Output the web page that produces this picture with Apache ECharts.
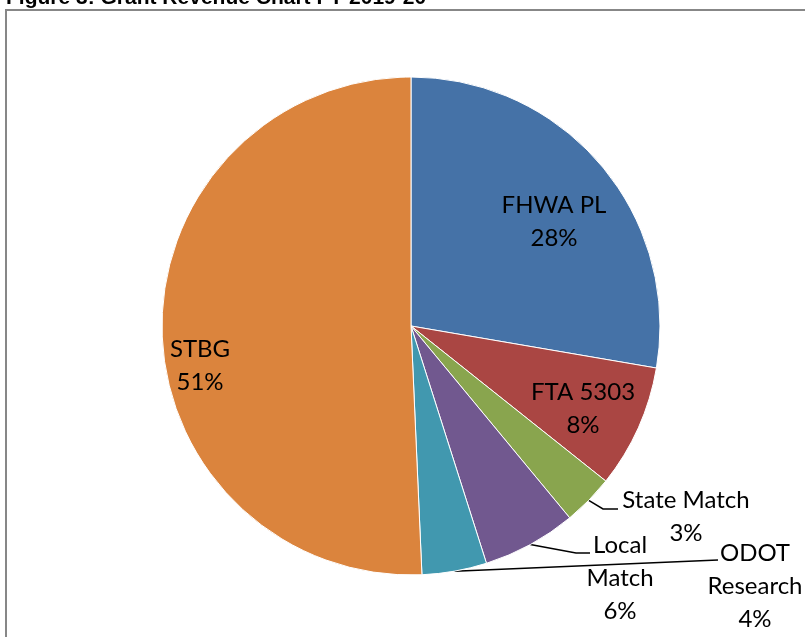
<!DOCTYPE html>
<html>
<head>
<meta charset="utf-8">
<script src="https://cdn.jsdelivr.net/npm/echarts@6/dist/echarts.min.js"></script>
<style>
  html, body { margin: 0; padding: 0; background: #fff; }
  #chart { width: 805px; height: 637px; }
</style>
</head>
<body>
<div id="chart"></div>
<script>
// Grant revenue shares FY 2019-20 (percent)
var categories = ['FHWA PL', 'FTA 5303', 'State Match', 'Local Match', 'ODOT Research', 'STBG'];
var shares = [27.7, 8.0, 3.3, 6.1, 4.2, 50.7];
var labelText = ['FHWA PL', 'FTA 5303', 'State Match', 'Local\nMatch', 'ODOT\nResearch', 'STBG'];
var colors = ['#4572A7', '#AA4643', '#89A54E', '#71588F', '#4198AF', '#DB843D'];

// where each label sits (Excel placed them by hand)
var labelSpots = [
  { x: 554, y: 222 },
  { x: 583, y: 409 },
  { x: 686, y: 517, line: [[603, 509], [618, 509]] },
  { x: 620, y: 578, line: [[576, 553], [590, 553]] },
  { x: 755, y: 586, line: [[718, 560]] },
  { x: 200, y: 366 }
];

function GenerateChart() {
  var chart = echarts.init(document.getElementById('chart'), null, { renderer: 'canvas' });

  var data = categories.map(function (name, i) {
    var outside = !!labelSpots[i].line;
    return {
      name: name,
      value: shares[i],
      itemStyle: { color: colors[i] },
      label: { position: outside ? 'outside' : 'inside' },
      labelLine: { show: outside }
    };
  });

  chart.setOption({
    animation: false,
    graphic: [
      {
        type: 'rect',
        shape: { x: 6, y: 10, width: 900, height: 900 },
        style: { fill: 'none', stroke: '#878787', lineWidth: 2 }
      },
      {
        // title is clipped by the top of the page in the original
        type: 'text',
        x: 6,
        y: -2,
        style: {
          text: 'Figure 3: Grant Revenue Chart FY 2019-20',
          font: 'bold 21px "Liberation Sans", Arial, sans-serif',
          fill: '#000',
          verticalAlign: 'middle'
        }
      }
    ],
    series: [
      {
        name: 'Grant Revenue',
        type: 'pie',
        center: [411, 326],
        radius: 249,
        startAngle: 90,
        clockwise: true,
        avoidLabelOverlap: false,
        itemStyle: { borderColor: '#fff', borderWidth: 1 },
        label: {
          color: '#000',
          fontFamily: 'Lato',
          fontSize: 24,
          lineHeight: 33,
          formatter: function (p) {
            return labelText[p.dataIndex] + '\n' + Math.round(p.percent) + '%';
          }
        },
        labelLine: {
          smooth: false,
          lineStyle: { color: '#000', width: 1.5 }
        },
        labelLayout: function (params) {
          var spot = labelSpots[params.dataIndex];
          var out = { x: spot.x, y: spot.y, align: 'center', verticalAlign: 'middle' };
          if (spot.line && params.labelLinePoints) {
            out.labelLinePoints = [params.labelLinePoints[0]].concat(spot.line);
          }
          return out;
        },
        emphasis: { disabled: true },
        data: data
      }
    ]
  });
}

GenerateChart();
</script>
</body>
</html>
